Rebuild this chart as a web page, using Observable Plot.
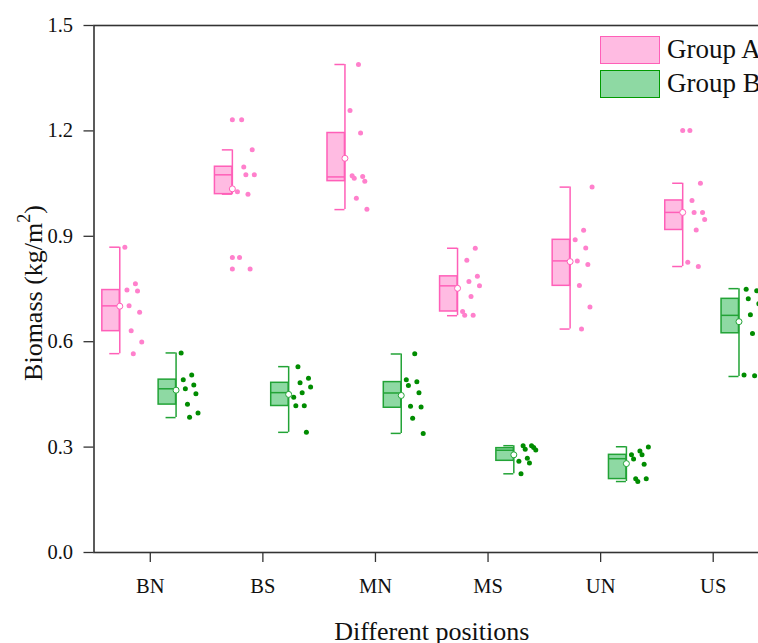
<!DOCTYPE html>
<html><head><meta charset="utf-8">
<script src="https://cdn.jsdelivr.net/npm/d3@7"></script>
<script src="https://cdn.jsdelivr.net/npm/@observablehq/plot@0.6"></script>
<style>
html,body{margin:0;padding:0;background:#fff;overflow:hidden;}
#wrap{position:relative;width:758px;height:643px;overflow:hidden;}
#wrap svg{max-width:none !important;display:block;}
.legend{position:absolute;left:600px;top:35px;font-family:"Liberation Serif","Times New Roman",serif;font-size:27px;color:#111;white-space:nowrap;}
.legend .row{display:flex;align-items:center;height:29px;margin-bottom:5px;}
.legend .sw{width:58px;height:26px;margin-right:7px;box-sizing:content-box;}
</style></head><body><div id="wrap"></div>
<script>
const categories = ["BN","BS","MN","MS","UN","US"];
const yTicks = [0, 0.3, 0.6, 0.9, 1.2, 1.5];
const seriesNames = ["Group A","Group B"];
const yTitle = "Biomass (kg/m2)";
const xTitle = "Different positions";

// Group A (pink)
const whiskerLowA  = [0.566, 1.020, 0.976, 0.674, 0.636, 0.814];
const q1A          = [0.630, 1.020, 1.057, 0.686, 0.759, 0.918];
const medianA      = [0.702, 1.075, 1.069, 0.759, 0.830, 0.968];
const q3A          = [0.747, 1.098, 1.194, 0.786, 0.890, 1.002];
const whiskerHighA = [0.869, 1.146, 1.389, 0.866, 1.040, 1.051];
const meanA        = [0.701, 1.035, 1.122, 0.752, 0.828, 0.968];
const pointsA = [
  [0.869,0.765,0.747,0.744,0.702,0.684,0.631,0.599,0.566],
  [1.232,1.146,1.097,1.075,1.075,1.027,1.020,0.840,0.807],
  [1.389,1.258,1.194,1.072,1.070,1.065,1.057,1.008,0.977],
  [0.866,0.832,0.786,0.771,0.759,0.729,0.686,0.675,0.675],
  [1.040,0.917,0.890,0.867,0.830,0.820,0.760,0.699,0.636],
  [1.201,1.051,1.002,0.968,0.968,0.948,0.918,0.826,0.814]
];

// Group B (green)
const whiskerLowB  = [0.384, 0.342, 0.339, 0.224, 0.202, 0.501];
const q1B          = [0.421, 0.417, 0.412, 0.261, 0.209, 0.624];
const medianB      = [0.466, 0.455, 0.454, 0.291, 0.267, 0.675];
const q3B          = [0.492, 0.483, 0.485, 0.297, 0.278, 0.722];
const whiskerHighB = [0.568, 0.529, 0.565, 0.304, 0.301, 0.751];
const meanB        = [0.462, 0.450, 0.447, 0.278, 0.253, 0.657];
const pointsB = [
  [0.568,0.505,0.492,0.477,0.466,0.452,0.422,0.397,0.385],
  [0.529,0.496,0.483,0.471,0.455,0.442,0.418,0.418,0.342],
  [0.566,0.492,0.486,0.475,0.455,0.416,0.414,0.382,0.339],
  [0.304,0.304,0.299,0.294,0.292,0.268,0.260,0.255,0.224],
  [0.300,0.289,0.278,0.278,0.266,0.251,0.210,0.210,0.202],
  [0.749,0.745,0.722,0.708,0.677,0.670,0.623,0.505,0.503]
];

const styleA = {off:-0.271, stroke:"#ff5fb8", fill:"#ffbbe2", dot:"#ff80cc"};
const styleB = {off:0.229, stroke:"#22a336", fill:"#8ed9a3", dot:"#008c00"};
const boxW = 0.155, capW = 0.089;

function groupMarks(lo, q1, med, q3, hi, mean, pts, s) {
  const rows = categories.map((c, i) => ({i, lo: lo[i], q1: q1[i], med: med[i], q3: q3[i], hi: hi[i], mean: mean[i]}));
  const dots = [];
  const outl = [];
  pts.forEach((arr, i) => arr.forEach((v, j) => {
    const t = ((j * 5 + i * 2) % 9) / 8;
    dots.push({i, v, t});
    if (v > hi[i] + 0.002 || v < lo[i] - 0.002) outl.push({i, v});
  }));
  const xr = d => d.i + s.off;
  const xl = d => d.i + s.off - boxW;
  const xc = d => d.i + s.off - capW;
  return [
    Plot.ruleX(rows, {x: xr, y1: "lo", y2: "hi", stroke: s.stroke, strokeWidth: 1.5}),
    Plot.ruleY(rows, {x1: xc, x2: xr, y: "lo", stroke: s.stroke, strokeWidth: 1.5}),
    Plot.ruleY(rows, {x1: xc, x2: xr, y: "hi", stroke: s.stroke, strokeWidth: 1.5}),
    Plot.rect(rows, {x1: xl, x2: xr, y1: "q1", y2: "q3", fill: s.fill, stroke: s.stroke, strokeWidth: 1.5}),
    Plot.ruleY(rows, {x1: xl, x2: xr, y: "med", stroke: s.stroke, strokeWidth: 1.5}),
    Plot.dot(dots, {x: d => d.i + s.off + 0.045 + 0.15 * d.t, y: "v", r: 2.5, fill: s.dot, stroke: "none"}),
    Plot.dot(outl, {x: xr, y: "v", r: 2.5, fill: s.dot, stroke: "none"}),
    Plot.dot(rows, {x: xr, y: "mean", r: 3, fill: "white", stroke: s.stroke, strokeWidth: 1})
  ];
}

const chart = Plot.plot({
  width: 790,
  height: 643,
  marginLeft: 93.5,
  marginRight: 21,
  marginTop: 25,
  marginBottom: 91,
  style: {fontFamily: "'Liberation Serif','Times New Roman',serif", fontSize: "20px", color: "#111", background: "white", maxWidth: "none"},
  x: {domain: [-0.5, 5.5]},
  y: {domain: [0, 1.5]},
  marks: [
    ...groupMarks(whiskerLowA, q1A, medianA, q3A, whiskerHighA, meanA, pointsA, styleA),
    ...groupMarks(whiskerLowB, q1B, medianB, q3B, whiskerHighB, meanB, pointsB, styleB),
    Plot.axisX({ticks: categories.map((c, i) => i), tickFormat: i => categories[i], tickSize: 10, tickPadding: 16, fontSize: 20.5, label: null, stroke: "#333", strokeWidth: 1.3}),
    Plot.axisY({ticks: yTicks, tickFormat: d3.format(".1f"), tickSize: 10, tickPadding: 11, fontSize: 20.5, label: null, stroke: "#333", strokeWidth: 1.3}),
    Plot.frame({stroke: "#333", strokeWidth: 1.6}),
    Plot.text([xTitle], {text: d => d, frameAnchor: "bottom", textAnchor: "middle", lineAnchor: "middle", dy: 79, fontSize: 26, fill: "#111"}),
    Plot.text([yTitle], {text: d => d, frameAnchor: "left", textAnchor: "middle", lineAnchor: "middle", dx: -60, dy: 4, rotate: -90, fontSize: 26, fill: "#111", className: "ytitle"})
  ]
});
chart.style.maxWidth = "none";
chart.setAttribute("width", 790);

// render the "2" of m2 as a raised superscript
d3.select(chart).selectAll("text").filter(function() { return this.textContent === yTitle; }).each(function() {
  const t = d3.select(this);
  t.text(null);
  t.append("tspan").text("Biomass (kg/m");
  t.append("tspan").attr("dy", -12).attr("font-size", 18).text("2");
  t.append("tspan").attr("dy", 12).text(")");
});

const wrap = document.getElementById("wrap");
wrap.appendChild(chart);

const legend = document.createElement("div");
legend.className = "legend";
[[seriesNames[0], styleA], [seriesNames[1], styleB]].forEach(([name, s]) => {
  const row = document.createElement("div");
  row.className = "row";
  const sw = document.createElement("span");
  sw.className = "sw";
  sw.style.background = s.fill;
  sw.style.border = "1.5px solid " + (s === styleB ? "#009a00" : s.stroke);
  const tx = document.createElement("span");
  tx.textContent = name;
  row.appendChild(sw);
  row.appendChild(tx);
  legend.appendChild(row);
});
wrap.appendChild(legend);
</script></body></html>
